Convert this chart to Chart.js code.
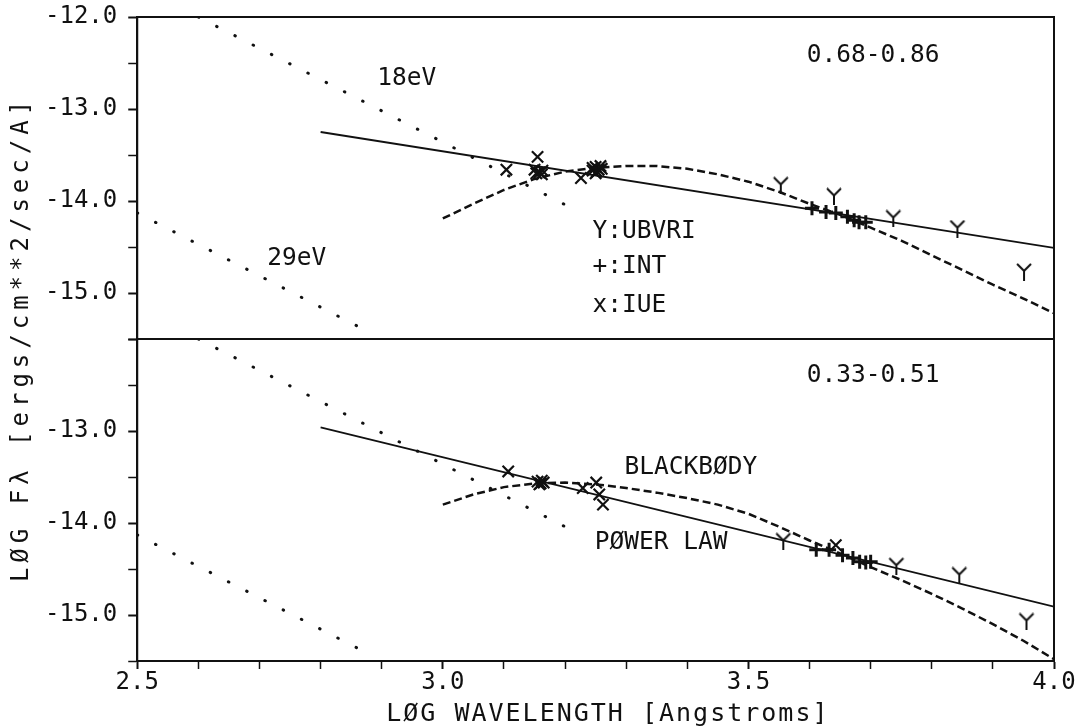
<!DOCTYPE html>
<html>
<head>
<meta charset="utf-8">
<script src="https://cdn.jsdelivr.net/npm/chart.js"></script>
<style>
  html, body { margin: 0; padding: 0; background: #fff; }
  #chart { display: block; }
</style>
</head>
<body>
<canvas id="chart" width="1078" height="726"></canvas>
<script>
// log wavelength grid of the blackbody curves
const bbX = [3.0, 3.05, 3.1, 3.15, 3.2, 3.25, 3.3, 3.35, 3.4, 3.45, 3.5, 3.55, 3.6, 3.65, 3.7, 3.75, 3.8, 3.85, 3.9, 3.95, 4.0];
const bbTop = [-14.19, -14.03, -13.88, -13.76, -13.68, -13.64, -13.62, -13.62, -13.65, -13.71, -13.79, -13.90, -14.03, -14.15, -14.29, -14.43, -14.59, -14.75, -14.91, -15.06, -15.22];
const bbBottom = [-13.80, -13.69, -13.61, -13.57, -13.56, -13.58, -13.62, -13.67, -13.73, -13.80, -13.90, -14.04, -14.19, -14.33, -14.48, -14.62, -14.77, -14.93, -15.10, -15.28, -15.48];

// power law fits
const plX = [2.8, 4.0];
const plTop = [-13.25, -14.51];
const plBottom = [-12.96, -14.91];

// 18 eV and 29 eV curves (same in both panels)
const ev18X = [2.6, 3.2];
const ev18Y = [-12.0, -14.04];
const ev29X = [2.5, 2.875];
const ev29Y = [-14.13, -15.41];

// IUE points
const iueTopX = [3.104, 3.155, 3.150, 3.158, 3.162, 3.153, 3.163, 3.226, 3.245, 3.250, 3.255, 3.260, 3.250, 3.245, 3.252, 3.258];
const iueTopY = [-13.66, -13.52, -13.66, -13.69, -13.71, -13.70, -13.67, -13.75, -13.67, -13.63, -13.66, -13.65, -13.70, -13.64, -13.68, -13.62];
const iueBotX = [3.107, 3.155, 3.160, 3.165, 3.158, 3.162, 3.229, 3.251, 3.256, 3.262, 3.643];
const iueBotY = [-13.44, -13.55, -13.57, -13.56, -13.58, -13.54, -13.62, -13.56, -13.69, -13.80, -14.24];

// INT points
const intTopX = [3.604, 3.627, 3.643, 3.662, 3.673, 3.681, 3.692];
const intTopY = [-14.08, -14.12, -14.13, -14.17, -14.21, -14.23, -14.23];
const intBotX = [3.611, 3.632, 3.654, 3.671, 3.682, 3.692, 3.700];
const intBotY = [-14.29, -14.29, -14.35, -14.38, -14.42, -14.43, -14.42];

// UBVRI points
const ubvTopX = [3.553, 3.640, 3.737, 3.842, 3.951];
const ubvTopY = [-13.83, -13.95, -14.19, -14.30, -14.77];
const ubvBotX = [3.557, 3.742, 3.845, 3.955];
const ubvBotY = [-14.20, -14.47, -14.57, -15.07];

const FONT = "'DejaVu Sans Mono', monospace";
const INK = '#111';

function pts(xs, ys) {
	return xs.map((x, i) => ({ x: x, y: ys[i] }));
}

// Y shaped marker for the UBVRI photometry
function makeY() {
	const c = document.createElement('canvas');
	c.width = 18;
	c.height = 18;
	const g = c.getContext('2d');
	g.strokeStyle = INK;
	g.lineWidth = 2;
	g.beginPath();
	g.moveTo(2, 1); g.lineTo(9, 8);
	g.lineTo(16, 1);
	g.moveTo(9, 8); g.lineTo(9, 18);
	g.stroke();
	return c;
}
const yMark = makeY();

function lineSet(data, axis, kind) {
	const ds = {
		data: data, yAxisID: axis, showLine: true, pointRadius: 0,
		borderColor: INK, fill: false, tension: 0
	};
	if (kind === 'solid') { ds.borderWidth = 1.8; }
	if (kind === 'dash') { ds.borderWidth = 2.5; ds.borderDash = [8, 4]; }
	if (kind === 'dot') { ds.borderWidth = 3; ds.borderDash = [0.5, 20]; ds.borderCapStyle = 'round'; }
	return ds;
}

function markSet(data, axis, style, radius, width) {
	return {
		data: data, yAxisID: axis, showLine: false, pointStyle: style,
		pointRadius: radius, borderColor: INK, backgroundColor: INK, pointBorderWidth: width
	};
}

// text written inside the panels
const notes = [
	{ text: '0.68-0.86', x: 3.704, y: -12.42, axis: 'yTop', align: 'center' },
	{ text: '18eV', x: 2.941, y: -12.67, axis: 'yTop', align: 'center' },
	{ text: '29eV', x: 2.761, y: -14.63, axis: 'yTop', align: 'center' },
	{ text: 'Y:UBVRI', x: 3.245, y: -14.33, axis: 'yTop', align: 'left' },
	{ text: '+:INT', x: 3.245, y: -14.71, axis: 'yTop', align: 'left' },
	{ text: 'x:IUE', x: 3.245, y: -15.14, axis: 'yTop', align: 'left' },
	{ text: '0.33-0.51', x: 3.704, y: -12.40, axis: 'yBot', align: 'center' },
	{ text: 'BLACKBØDY', x: 3.406, y: -13.40, axis: 'yBot', align: 'center' },
	{ text: 'PØWER LAW', x: 3.357, y: -14.21, axis: 'yBot', align: 'center' }
];

const panelText = {
	id: 'panelText',
	afterDatasetsDraw(chart) {
		const ctx = chart.ctx;
		const xs = chart.scales.x;
		const a = chart.chartArea;
		ctx.save();
		ctx.fillStyle = INK;
		ctx.font = '24.5px ' + FONT;
		ctx.textBaseline = 'middle';
		notes.forEach(n => {
			ctx.textAlign = n.align;
			ctx.fillText(n.text, xs.getPixelForValue(n.x), chart.scales[n.axis].getPixelForValue(n.y));
		});
		// x axis title, plotter style spacing
		ctx.textAlign = 'center';
		ctx.font = '25px ' + FONT;
		if ('letterSpacing' in ctx) ctx.letterSpacing = '2px';
		ctx.fillText('LØG WAVELENGTH [Angstroms]', xs.getPixelForValue(3.27), xs.bottom - 12);
		// y axis title, centred on both panels
		ctx.translate(22, (a.top + a.bottom) / 2);
		ctx.rotate(-Math.PI / 2);
		ctx.font = '24px ' + FONT;
		if ('letterSpacing' in ctx) ctx.letterSpacing = '5px';
		ctx.fillText('LØG Fλ [ergs/cm**2/sec/A]', 0, 0);
		ctx.restore();
	}
};

// box round the plot and the line between the panels
const frame = {
	id: 'frame',
	afterDraw(chart) {
		const ctx = chart.ctx;
		const a = chart.chartArea;
		const mid = chart.scales.yTop.bottom;
		ctx.save();
		ctx.strokeStyle = INK;
		ctx.lineWidth = 2;
		ctx.strokeRect(a.left, a.top, a.right - a.left, a.bottom - a.top);
		ctx.beginPath();
		ctx.moveTo(a.left, mid);
		ctx.lineTo(a.right, mid);
		ctx.stroke();
		ctx.restore();
	}
};

function yScale(hideTop) {
	return {
		type: 'linear', position: 'left', stack: 'panels', stackWeight: 1,
		min: -15.5, max: -12.0,
		border: { display: true, color: INK, width: 2 },
		grid: {
			drawOnChartArea: false, tickLength: 9, tickColor: INK,
			tickWidth: c => Number.isInteger(c.tick.value) ? 2 : 1.5
		},
		ticks: {
			stepSize: 0.5, autoSkip: false, padding: 11, color: INK,
			font: { family: FONT, size: 24, lineHeight: 1 },
			callback: v => (Number.isInteger(v) && !(hideTop && v === -12)) ? v.toFixed(1) : ''
		},
		// let the plot reach the top padding instead of the label overhang
		afterFit: s => { s.paddingTop = 0; s.paddingBottom = 0; }
	};
}

new Chart(document.getElementById('chart'), {
	type: 'scatter',
	data: {
		datasets: [
			lineSet(pts(ev18X, ev18Y), 'yTop', 'dot'),
			lineSet(pts(ev29X, ev29Y), 'yTop', 'dot'),
			lineSet(pts(plX, plTop), 'yTop', 'solid'),
			lineSet(pts(bbX, bbTop), 'yTop', 'dash'),
			markSet(pts(iueTopX, iueTopY), 'yTop', 'crossRot', 8, 2.2),
			markSet(pts(intTopX, intTopY), 'yTop', 'cross', 7, 3),
			markSet(pts(ubvTopX, ubvTopY), 'yTop', yMark, 9, 2),
			lineSet(pts(ev18X, ev18Y), 'yBot', 'dot'),
			lineSet(pts(ev29X, ev29Y), 'yBot', 'dot'),
			lineSet(pts(plX, plBottom), 'yBot', 'solid'),
			lineSet(pts(bbX, bbBottom), 'yBot', 'dash'),
			markSet(pts(iueBotX, iueBotY), 'yBot', 'crossRot', 8, 2.2),
			markSet(pts(intBotX, intBotY), 'yBot', 'cross', 7, 3),
			markSet(pts(ubvBotX, ubvBotY), 'yBot', yMark, 9, 2)
		]
	},
	options: {
		responsive: false,
		animation: false,
		layout: { padding: { left: 34, right: 24, top: 17, bottom: 0 } },
		plugins: { legend: { display: false }, tooltip: { enabled: false } },
		scales: {
			x: {
				type: 'linear', min: 2.5, max: 4.0,
				border: { display: true, color: INK, width: 2 },
				grid: {
					drawOnChartArea: false, tickLength: 8, tickColor: INK,
					tickWidth: c => Math.round(c.tick.value * 10) % 5 === 0 ? 2 : 1.5
				},
				ticks: {
					stepSize: 0.1, autoSkip: false, maxRotation: 0, padding: 2, color: INK,
					font: { family: FONT, size: 24, lineHeight: 1 },
					callback: v => {
						const r = Math.round(v * 10);
						return r % 5 === 0 ? (r / 10).toFixed(1) : '';
					}
				},
				// space kept for the title, which the panelText plugin writes
				title: {
					display: true, text: 'LØG WAVELENGTH [Angstroms]', color: 'rgba(0,0,0,0)',
					font: { family: FONT, size: 25, lineHeight: 1 },
					padding: { top: 4, bottom: 0 }
				}
			},
			yBot: yScale(true),
			yTop: yScale(false)
		}
	},
	plugins: [panelText, frame]
});
</script>
</body>
</html>
